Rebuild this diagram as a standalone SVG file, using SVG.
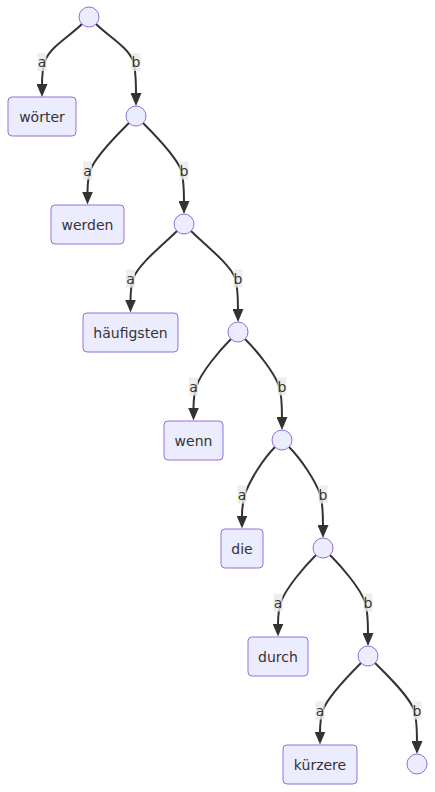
<svg xmlns="http://www.w3.org/2000/svg" width="435" height="792" viewBox="0 0 435 792">
<style>
.n rect{fill:#ECECFF;stroke:#9370DB;stroke-width:1}
.n circle{fill:#ECECFF;stroke:#9370DB;stroke-width:1}
.n text,.lb text{font-family:"DejaVu Sans",Verdana,sans-serif;font-size:14px;fill:#333;text-anchor:middle}
.e path{fill:none;stroke:#333;stroke-width:2}
.lb rect{fill:#e8e8e8;opacity:0.8}
</style>
<defs>
<marker id="ah" viewBox="0 0 13 11" refX="1" refY="5.5" markerWidth="13" markerHeight="11" markerUnits="userSpaceOnUse" orient="auto">
<path d="M0,0 L13,5.5 L0,11 z" fill="#333"/>
</marker>
</defs>
<rect width="435" height="792" fill="#fff"/>
<g id="edges" class="e">
<path marker-end="url(#ah)" d="M82,24 C70,36 50,47 45,61 C43,67 42,75 42,85"/>
<path marker-end="url(#ah)" d="M96,24 C108,36 128,47 133,61 C135,67 136,84 136,94"/>
<path marker-end="url(#ah)" d="M129,123 C117,135 95.5,156 90.5,170 C88.5,176 87.5,182.5 87.5,192.5"/>
<path marker-end="url(#ah)" d="M143,123 C155,135 176,156 181,170 C183,176 184,192 184,202"/>
<path marker-end="url(#ah)" d="M177,231 C165,243 138.5,264 133.5,278 C131.5,284 130.5,290.5 130.5,300.5"/>
<path marker-end="url(#ah)" d="M191,231 C203,243 230,264 235,278 C237,284 238,300 238,310"/>
<path marker-end="url(#ah)" d="M231,339 C219,351 201.5,372 196.5,386 C194.5,392 193.5,398.5 193.5,408.5"/>
<path marker-end="url(#ah)" d="M245,339 C257,351 274,372 279,386 C281,392 282,408 282,418"/>
<path marker-end="url(#ah)" d="M275,447 C263,459 250,480 245,494 C243,500 242,506.5 242,516.5"/>
<path marker-end="url(#ah)" d="M289,447 C301,459 315,480 320,494 C322,500 323,516 323,526"/>
<path marker-end="url(#ah)" d="M316,555 C304,567 286,588 281,602 C279,608 278,614.5 278,624.5"/>
<path marker-end="url(#ah)" d="M330,555 C342,567 360,588 365,602 C367,608 368,624 368,634"/>
<path marker-end="url(#ah)" d="M361,663 C349,675 328,696 323,710 C321,716 320,722.5 320,732.5"/>
<path marker-end="url(#ah)" d="M375,663 C387,675 409,696 414,710 C416,716 417,732 417,742"/>
</g>
<g id="edge-labels" class="lb">
<rect x="37.5" y="53" width="9" height="18"/><text x="42" y="67">a</text>
<rect x="131.5" y="53" width="9" height="18"/><text x="136" y="67">b</text>
<rect x="83" y="161.5" width="9" height="18"/><text x="87.5" y="175.5">a</text>
<rect x="179.5" y="161.5" width="9" height="18"/><text x="184" y="175.5">b</text>
<rect x="126" y="269.5" width="9" height="18"/><text x="130.5" y="283.5">a</text>
<rect x="233.5" y="269.5" width="9" height="18"/><text x="238" y="283.5">b</text>
<rect x="189" y="377.5" width="9" height="18"/><text x="193.5" y="391.5">a</text>
<rect x="277.5" y="377.5" width="9" height="18"/><text x="282" y="391.5">b</text>
<rect x="237.5" y="485.5" width="9" height="18"/><text x="242" y="499.5">a</text>
<rect x="318.5" y="485.5" width="9" height="18"/><text x="323" y="499.5">b</text>
<rect x="273.5" y="593.5" width="9" height="18"/><text x="278" y="607.5">a</text>
<rect x="363.5" y="593.5" width="9" height="18"/><text x="368" y="607.5">b</text>
<rect x="315.5" y="701.5" width="9" height="18"/><text x="320" y="715.5">a</text>
<rect x="412.5" y="701.5" width="9" height="18"/><text x="417" y="715.5">b</text>
</g>
<g id="n0" class="n"><circle cx="89" cy="17" r="10"/></g>
<g id="n1" class="n"><circle cx="136" cy="116" r="10"/></g>
<g id="n2" class="n"><circle cx="184" cy="224" r="10"/></g>
<g id="n3" class="n"><circle cx="238" cy="332" r="10"/></g>
<g id="n4" class="n"><circle cx="282" cy="440" r="10"/></g>
<g id="n5" class="n"><circle cx="323" cy="548" r="10"/></g>
<g id="n6" class="n"><circle cx="368" cy="656" r="10"/></g>
<g id="n7" class="n"><circle cx="417" cy="764" r="10"/></g>
<g id="woerter" class="n"><rect x="8" y="97" width="68" height="39" rx="4"/><text x="42" y="121.5">wörter</text></g>
<g id="werden" class="n"><rect x="51" y="205" width="73" height="39" rx="4"/><text x="87.5" y="229.5">werden</text></g>
<g id="haeufigsten" class="n"><rect x="83" y="313" width="95" height="39" rx="4"/><text x="130.5" y="337.5">häufigsten</text></g>
<g id="wenn" class="n"><rect x="164" y="421" width="59" height="39" rx="4"/><text x="193.5" y="445.5">wenn</text></g>
<g id="die" class="n"><rect x="221" y="529" width="42" height="39" rx="4"/><text x="242" y="553.5">die</text></g>
<g id="durch" class="n"><rect x="248" y="637" width="60" height="39" rx="4"/><text x="278" y="661.5">durch</text></g>
<g id="kuerzere" class="n"><rect x="283" y="745" width="74" height="39" rx="4"/><text x="320" y="769.5">kürzere</text></g>
</svg>
